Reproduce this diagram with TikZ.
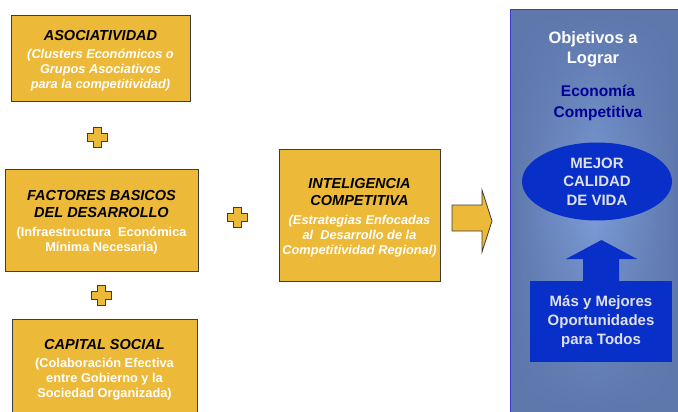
\documentclass[tikz,border=0pt]{standalone}
\usepackage{fontspec}
\setmainfont{Liberation Sans}
\usetikzlibrary{shapes.geometric,fadings}
\definecolor{boxfill}{RGB}{237,185,56}
\definecolor{boxline}{RGB}{60,60,60}
\definecolor{panelbase}{RGB}{94,120,172}
\definecolor{panellight}{RGB}{124,156,216}
\definecolor{panelline}{RGB}{60,60,210}
\definecolor{deepblue}{RGB}{8,48,200}
\definecolor{navy}{RGB}{0,0,150}
\definecolor{paletext}{RGB}{222,224,236}
\tikzfading[name=vband, top color=transparent!100, bottom color=transparent!100, middle color=transparent!0]
\tikzset{
  orangebox/.style={draw=boxline, line width=0.8pt, fill=boxfill, rectangle, inner sep=0pt},
  boxtext/.style={align=center, inner sep=0pt, font=\fontsize{12.8}{15}\selectfont\bfseries, text=white},
  boxtextit/.style={boxtext, font=\fontsize{12.8}{15}\selectfont\bfseries\itshape},
  plusstyle/.style={draw=boxline, line width=0.8pt, fill=boxfill},
  plussign/.pic={\draw[plusstyle] (-4,-10) -- (4,-10) -- (4,-4) -- (10,-4) -- (10,4) -- (4,4) -- (4,10) -- (-4,10) -- (-4,4) -- (-10,4) -- (-10,-4) -- (-4,-4) -- cycle;},
  bluething/.style={fill=deepblue, draw=none},
  bluetext/.style={text=paletext, font=\fontsize{15}{18.5}\selectfont\bfseries, align=center},
}
\newcommand\hd[1]{{\fontsize{14.5}{17}\selectfont\color{black}#1}}
\begin{document}
\begin{tikzpicture}[x=1pt,y=-1pt]
\useasboundingbox (0,0) rectangle (678,412);
% left boxes
\node[orangebox, minimum width=179pt, minimum height=86pt] (asoc) at (100.5,58) {};
\node[boxtextit] (asoct) at (100.5,61)
  {\hd{ASOCIATIVIDAD}\\[3pt](Clusters Económicos o\\Grupos Asociativos\\ para la competitividad)};
\node[orangebox, minimum width=193pt, minimum height=102pt] (fact) at (101.5,220) {};
\node[boxtext] (factt) at (101.5,222.5)
  {\hd{\itshape FACTORES BASICOS}\\[2pt]\hd{\itshape DEL DESARROLLO}\\[4pt](Infraestructura\ \ Económica\\Mínima Necesaria)};
\node[orangebox, minimum width=185pt, minimum height=95pt] (capi) at (104.5,366.5) {};
\node[boxtext] (capit) at (104.5,370)
  {\hd{\itshape CAPITAL SOCIAL}\\[3pt](Colaboración Efectiva\\entre Gobierno y la\\Sociedad Organizada)};
\node[orangebox, minimum width=161pt, minimum height=132pt] (intel) at (359.5,215) {};
\node[boxtextit] (intelt) at (359.5,218)
  {\hd{INTELIGENCIA}\\[2pt]\hd{COMPETITIVA}\\[4pt](Estrategias Enfocadas\\ al\ \ Desarrollo de la\\Competitividad Regional)};
% plus signs
\pic (plusA) at (97,137) {plussign};
\pic (plusB) at (101,295) {plussign};
\pic (plusC) at (237,217) {plussign};
% block arrow
\draw[plusstyle] (452,205) -- (482,205) -- (482,190) -- (492,221) -- (482,252) -- (482,231) -- (452,231) -- cycle;
% right panel
\fill[panelbase] (510,9) rectangle (678,412);
\shade[left color=panelbase, right color=panelbase, middle color=panellight, path fading=vband] (510,9) rectangle (678,412);
\draw[panelline, line width=1.5pt] (510.5,412) -- (510.5,9.5) -- (678,9.5);
\node[text=white, font=\fontsize{16.5}{20}\selectfont\bfseries, align=center] (obj) at (593,49) {Objetivos a\\Lograr};
\node[text=navy, font=\fontsize{15.5}{21}\selectfont\bfseries, align=center] (eco) at (598,102.5) {Economía\\Competitiva};
\node[bluething, ellipse, minimum width=150pt, minimum height=78pt, inner sep=0pt, bluetext] (vida) at (597,181.5) {MEJOR\\CALIDAD\\DE VIDA};
\node[bluething, rectangle, minimum width=142pt, minimum height=81pt, inner sep=0pt, bluetext, font=\fontsize{15}{19}\selectfont\bfseries] (oport) at (601,321.5) {Más y Mejores\\Oportunidades\\para Todos};
\fill[deepblue] (oport.north -| 583,0) -- (583,259) -- (566,259) -- (601.5,240) -- (637,259) -- (619,259) -- (oport.north -| 619,0) -- cycle;
\end{tikzpicture}
\end{document}
